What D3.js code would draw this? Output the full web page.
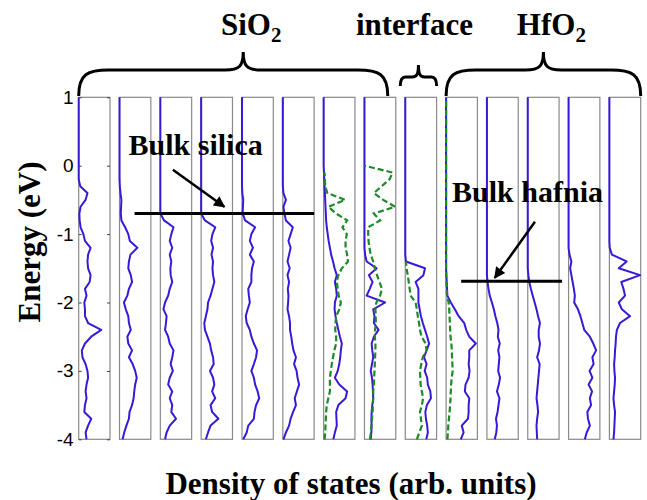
<!DOCTYPE html>
<html>
<head>
<meta charset="utf-8">
<script src="https://d3js.org/d3.v7.min.js"></script>
<style>
  body { margin: 0; background: #fff; }
</style>
</head>
<body>
<div id="my_dataviz"></div>
<script>
// energy grid of the DOS curves (eV), bottom to top
var energies = [-4.0, -3.9, -3.8, -3.7, -3.6, -3.5, -3.4, -3.3, -3.2, -3.1,
                -3.0, -2.9, -2.8, -2.7, -2.6, -2.5, -2.4, -2.3, -2.2, -2.1,
                -2.0, -1.9, -1.8, -1.7, -1.6, -1.5, -1.4, -1.3, -1.2, -1.1,
                -1.0, -0.9, -0.8, -0.7, -0.6, -0.5, -0.4, -0.3, -0.2, -0.1,
                 0.0,  0.1,  0.2,  0.3,  0.4,  0.5,  0.6,  0.7,  0.8,  0.9, 1.0];

// layer-resolved DOS, one list per panel (arb. units, 0..1 of the panel width)
var dos1 = [.25,.22,.3,.4,.18,.2,.25,.22,.25,.3, .28,.22,.12,.1,.2,.4,.72,.3,.2,.2,
            .18,.25,.2,.35,.38,.3,.28,.3,.38,.2, .15,.06,.03,.02,.06,.22,.28,.05,0,0,
            0,0,0,0,0,0,0,0,0,0,0];
var dos2 = [.1,.15,.22,.3,.32,.4,.45,.47,.5,.55, .5,.42,.3,.4,.28,.25,.36,.3,.28,.2,
            .14,.25,.3,.4,.36,.28,.3,.35,.57,.33, .28,.18,.06,.04,.05,.06,.03,.01,0,0,
            0,0,0,0,0,0,0,0,0,0,0];
var dos3 = [.15,.2,.3,.5,.35,.38,.3,.38,.25,.3, .4,.33,.38,.42,.3,.25,.15,.18,.2,.1,
            .15,.25,.3,.38,.33,.32,.35,.3,.38,.3, .35,.42,.12,0,0,0,0,0,0,0,
            0,0,0,0,0,0,0,0,0,0,0];
var dos4 = [.15,.22,.3,.55,.35,.3,.45,.35,.42,.38, .28,.4,.38,.32,.28,.2,.12,.1,.15,.2,
            .22,.3,.36,.42,.38,.36,.38,.33,.38,.32, .36,.45,.12,0,0,0,0,0,0,0,
            0,0,0,0,0,0,0,0,0,0,0];
var dos5 = [.04,.15,.2,.38,.4,.45,.55,.5,.42,.38, .3,.38,.45,.48,.38,.3,.25,.15,.12,.18,
            .25,.22,.2,.3,.3,.32,.38,.25,.35,.25, .3,.42,.1,.02,.03,.04,.01,0,0,0,
            0,0,0,0,0,0,0,0,0,0,0];
var dos6 = [.02,.1,.2,.25,.33,.42,.38,.45,.52,.47, .44,.36,.42,.34,.3,.27,.23,.23,.2,.15,
            .17,.18,.16,.2,.15,.22,.15,.2,.25,.18, .25,.32,.1,.05,.02,.1,.02,0,0,0,
            0,0,0,0,0,0,0,0,0,0,0];
var dos7 = [.31,.36,.42,.41,.4,.47,.7,.75,.5,.36, .45,.5,.53,.55,.58,.52,.47,.42,.38,.35,
            .36,.42,.4,.36,.42,.35,.3,.24,.2,.16, .13,.1,.08,.07,.06,.05,.04,.03,.02,.01,
            0,0,0,0,0,0,0,0,0,0,0];
var dos8 = [.2,.22,.23,.22,.23,.25,.28,.27,.26,.24, .2,.24,.28,.25,.23,.3,.45,.3,.32,.28,
            .66,.07,.17,.26,.14,.39,.07,.02,0,0, 0,0,0,0,0,0,0,0,0,0,
            0,0,0,0,0,0,0,0,0,0,0];
var dos9 = [.67,.72,.7,.66,.64,.69,.82,.8,.72,.7, .62,.68,.6,.68,.76,.7,.63,.56,.5,.46,
            .42,.42,.42,.33,.58,.63,.02,0,0,0, 0,0,0,0,0,0,0,0,0,0,
            0,0,0,0,0,0,0,0,0,0,0];
var dos10 = [.47,.56,.5,.7,.72,.72,.74,.6,.62,.72, .75,.72,.74,.74,.95,.74,.64,.58,.4,.28,
             .15,.04,.03,.02,.01,0,0,0,0,0, 0,0,0,0,0,0,0,0,0,0,
             0,0,0,0,0,0,0,0,0,0,0];
var dos11 = [.25,.3,.32,.29,.34,.37,.4,.32,.38,.42, .36,.38,.4,.36,.41,.35,.37,.33,.27,.22,
             .16,.09,.05,.02,0,0,0,0,0,0, 0,0,0,0,0,0,0,0,0,0,
             0,0,0,0,0,0,0,0,0,0,0];
var dos12 = [.3,.29,.28,.3,.33,.31,.28,.3,.32,.34, .36,.38,.3,.36,.39,.35,.35,.39,.33,.28,
             .22,.16,.1,.05,.02,0,0,0,0,0, 0,0,0,0,0,0,0,0,0,0,
             0,0,0,0,0,0,0,0,0,0,0];
var dos13 = [.52,.58,.68,.62,.6,.72,.68,.75,.64,.76, .67,.8,.76,.88,.79,.68,.5,.44,.38,.3,
             .18,.2,.17,.13,.09,.05,.09,.03,0,0, 0,0,0,0,0,0,0,0,0,0,
             0,0,0,0,0,0,0,0,0,0,0];
var dos14 = [.13,.15,.16,.17,.18,.15,.13,.15,.17,.18, .16,.15,.17,.18,.2,.21,.24,.34,.66,.4,
             .3,.5,.45,.38,.98,.3,.55,.08,.01,0, 0,0,0,0,0,0,0,0,0,0,
             0,0,0,0,0,0,0,0,0,0,0];

// second (dashed) curve in the panels near the interface, null = not drawn
var dash7 = [.03,.05,.06,.07,.08,.1,.15,.2,.2,.2, .23,.26,.3,.34,.4,.4,.37,.38,.4,.5,
             .55,.48,.45,.42,.47,.58,.78,.75,.7,.7, .74,.6,.75,.4,.15,.69,.12,.05,.04,.03,
             null,null,null,null,null,null,null,null,null,null,null];
var dash8 = [.18,.2,.22,.24,.26,.27,.28,.28,.3,.31, .32,.33,.34,.35,.35,.33,.34,.36,.36,.35,
             .38,.5,.56,.48,.4,.33,.28,.2,.16,.13, .12,.12,.5,.3,.98,.6,.3,.55,.8,.9,
             0,null,null,null,null,null,null,null,null,null,null];
var dash9 = [.37,.45,.53,.5,.47,.53,.57,.53,.49,.48, .47,.51,.56,.68,.65,.52,.47,.44,.4,.37,
             .33,.17,.14,.11,.08,.04,.02,null,null,null, null,null,null,null,null,null,null,null,null,null,
             null,null,null,null,null,null,null,null,null,null,null];
var dash10 = [.04,.06,.07,.09,.11,.13,.14,.15,.16,.18, .21,.2,.19,.18,.17,.14,.13,.12,.11,.1,
              .08,.03,.02,.01,0,0,0,0,0,0, 0,0,0,0,0,0,0,0,0,0,
              0,0,0,0,0,0,0,0,0,0,0];

var solidSeries = [dos1, dos2, dos3, dos4, dos5, dos6, dos7, dos8, dos9, dos10, dos11, dos12, dos13, dos14];
var dashedSeries = [null, null, null, null, null, null, dash7, dash8, dash9, dash10, null, null, null, null];

var yTicks = [-4, -3, -2, -1, 0, 1];

// regions on top: label, subscript, first and last panel
var regionLabels = ["SiO", "interface", "HfO"];
var regionSubs = ["2", "", "2"];
var regionFirst = [0, 8, 9];
var regionLast = [7, 8, 13];

// energies of the two bulk band-edge marks
var bulkSilicaEdge = -0.7;
var bulkHafniaEdge = -1.69;

var W = 647, H = 500;
var blue = "#3a18d6", green = "#1c8a26", frame = "#8a8a8a";
var serif = "'Liberation Serif', 'Times New Roman', serif";

var svg = d3.select("#my_dataviz")
    .append("svg")
    .attr("width", W)
    .attr("height", H);

// arrow head marker
svg.append("defs").append("marker")
    .attr("id", "head")
    .attr("viewBox", "0 0 10 10")
    .attr("refX", 9).attr("refY", 5)
    .attr("markerWidth", 5).attr("markerHeight", 4.5)
    .attr("markerUnits", "strokeWidth")
    .attr("orient", "auto")
    .append("path")
    .attr("d", "M0,0 L10,5 L0,10 z")
    .attr("fill", "#000");

// panel positions
var x = d3.scaleBand()
    .domain(d3.range(solidSeries.length))
    .range([78.7, 640.7])
    .paddingInner(0.233);
var bw = x.bandwidth();

var y = d3.scaleLinear()
    .domain([-4, 1])
    .range([439.3, 97.3]);

var xd = d3.scaleLinear().domain([0, 1]).range([0, bw]);

var line = d3.line()
    .defined(function (d) { return d[1] != null; })
    .x(function (d) { return xd(d[1]); })
    .y(function (d) { return y(d[0]); });

solidSeries.forEach(function (vals, i) {
    var g = svg.append("g").attr("transform", "translate(" + x(i) + ",0)");

    g.append("rect")
        .attr("x", 0).attr("y", y(1))
        .attr("width", bw).attr("height", y(-4) - y(1))
        .attr("fill", "#fff")
        .attr("stroke", frame)
        .attr("stroke-width", 1.2);

    g.append("path")
        .datum(energies.map(function (e, k) { return [e, vals[k]]; }))
        .attr("d", line)
        .attr("fill", "none")
        .attr("stroke", blue)
        .attr("stroke-width", 2)
        .attr("stroke-linejoin", "round");

    if (dashedSeries[i]) {
        g.append("path")
            .datum(energies.map(function (e, k) { return [e, dashedSeries[i][k]]; }))
            .attr("d", line)
            .attr("fill", "none")
            .attr("stroke", green)
            .attr("stroke-width", 2.2)
            .attr("stroke-dasharray", "6,3");
    }
});

// y axis on the first panel, ticks inside
var yAxis = svg.append("g")
    .attr("transform", "translate(" + x(0) + ",0)")
    .call(d3.axisLeft(y).tickValues(yTicks).tickSize(-3).tickPadding(5)
        .tickFormat(function (d) { return String(d); }));
yAxis.select(".domain").remove();
yAxis.selectAll("line").attr("stroke", "#444");
yAxis.selectAll("text")
    .style("font-family", "'Liberation Sans', Arial, sans-serif")
    .style("font-size", "19px")
    .attr("fill", "#000");

var yAxisR = svg.append("g")
    .attr("transform", "translate(" + (x(0) + bw) + ",0)")
    .call(d3.axisRight(y).tickValues(yTicks).tickSize(-3).tickFormat(""));
yAxisR.select(".domain").remove();
yAxisR.selectAll("line").attr("stroke", "#444");

// axis titles
svg.append("text")
    .attr("transform", "translate(40,242) rotate(-90)")
    .attr("text-anchor", "middle")
    .style("font-family", serif)
    .style("font-weight", "bold")
    .style("font-size", "31px")
    .text("Energy (eV)");

svg.append("text")
    .attr("x", 351)
    .attr("y", 494)
    .attr("text-anchor", "middle")
    .style("font-family", serif)
    .style("font-weight", "bold")
    .style("font-size", "31px")
    .text("Density of states (arb. units)");

// curly braces over the regions
function brace(x0, x1, tip, yEnd, yLine, yTip, r, r2) {
    return "M" + x0 + "," + yEnd +
        "C" + x0 + "," + (yLine + 4) + " " + (x0 + r * 0.3) + "," + yLine + " " + (x0 + r) + "," + yLine +
        "L" + (tip - r2) + "," + yLine +
        "C" + (tip - r2 * 0.2) + "," + yLine + " " + tip + "," + (yLine - 4) + " " + tip + "," + yTip +
        "C" + tip + "," + (yLine - 4) + " " + (tip + r2 * 0.2) + "," + yLine + " " + (tip + r2) + "," + yLine +
        "L" + (x1 - r) + "," + yLine +
        "C" + (x1 - r * 0.3) + "," + yLine + " " + x1 + "," + (yLine + 4) + " " + x1 + "," + yEnd;
}

regionLabels.forEach(function (lab, i) {
    var x0 = x(regionFirst[i]), x1 = x(regionLast[i]) + bw;
    var small = regionFirst[i] == regionLast[i];
    if (i == 0) x1 -= 8;
    if (small) { x0 -= 5; }
    var tip = (x0 + x1) / 2 + (i == 0 ? 10 : 0);
    var d = small ? brace(x0, x1, tip, 86, 77, 65, 5, 6)
                  : brace(x0, x1, tip, 96, 70, 52, 30, 18);
    svg.append("path")
        .attr("d", d)
        .attr("fill", "none")
        .attr("stroke", "#000")
        .attr("stroke-width", 3);

    var t = svg.append("text")
        .attr("x", tip + (regionSubs[i] ? 8 : -4))
        .attr("y", 35)
        .attr("text-anchor", "middle")
        .style("font-family", serif)
        .style("font-weight", "bold")
        .style("font-size", "31px");
    t.append("tspan").text(lab);
    if (regionSubs[i]) {
        t.append("tspan")
            .attr("dy", 7)
            .style("font-size", "21px")
            .text(regionSubs[i]);
    }
});

// bulk annotations
function annotate(label, tx, ty, ax0, ay0, ax1, ay1, lx0, lx1, ly) {
    svg.append("line")
        .attr("x1", lx0).attr("x2", lx1)
        .attr("y1", ly).attr("y2", ly)
        .attr("stroke", "#000")
        .attr("stroke-width", 3);
    svg.append("line")
        .attr("x1", ax0).attr("y1", ay0)
        .attr("x2", ax1).attr("y2", ay1)
        .attr("stroke", "#000")
        .attr("stroke-width", 2.5)
        .attr("marker-end", "url(#head)");
    svg.append("text")
        .attr("x", tx).attr("y", ty)
        .style("font-family", serif)
        .style("font-weight", "bold")
        .style("font-size", "30px")
        .text(label);
}

annotate("Bulk silica", x(1) + 9, y(0.16),
    x(2) + 0.4 * bw, y(-0.06), x(3) + 0.74 * bw, y(-0.6),
    x(1) + 0.48 * bw, x(5) + bw, y(bulkSilicaEdge));

annotate("Bulk hafnia", x(9) + 6, y(-0.53),
    x(11) + 0.23 * bw, y(-0.82), x(10) + 0.25 * bw, y(-1.64),
    x(9) + 0.48 * bw, x(11) + bw + 3, y(bulkHafniaEdge));
</script>
</body>
</html>
